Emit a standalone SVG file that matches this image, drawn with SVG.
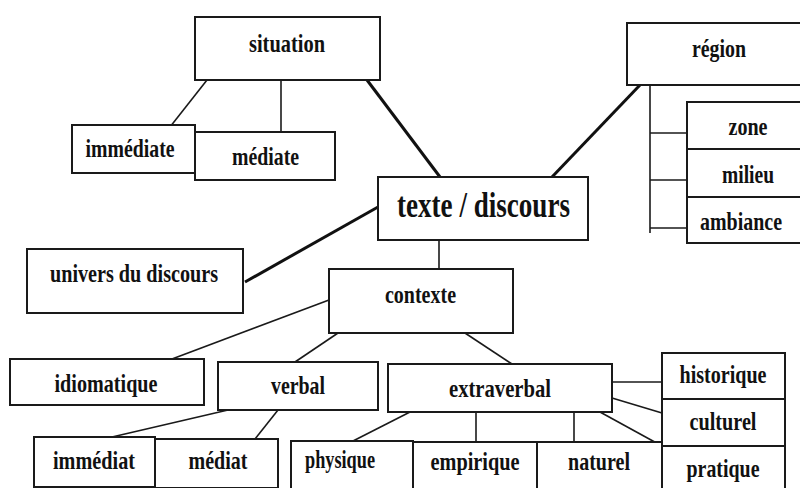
<svg xmlns="http://www.w3.org/2000/svg" width="800" height="488" viewBox="0 0 800 488">
<style>
  .box { fill: #ffffff; stroke: #1a1a1a; stroke-width: 2; }
  .t { font-family: "Liberation Serif", "Times New Roman", serif; font-weight: bold; font-size: 25px; fill: #111111; text-anchor: middle; }
  .big { font-size: 35px; }
  .thin { stroke: #1a1a1a; stroke-width: 1.6; fill: none; }
  .thick { stroke: #111111; stroke-width: 3; fill: none; }
</style>
<rect x="0" y="0" width="800" height="488" fill="#ffffff"/>
<g id="connectors">
  <line class="thin" x1="207" y1="80" x2="170" y2="127"/>
  <line class="thin" x1="281" y1="80" x2="281" y2="132"/>
  <line class="thin" x1="650" y1="85" x2="650" y2="233"/>
  <line class="thin" x1="650" y1="133" x2="687" y2="133"/>
  <line class="thin" x1="650" y1="180" x2="687" y2="180"/>
  <line class="thin" x1="650" y1="228" x2="687" y2="228"/>
  <line class="thin" x1="439" y1="240" x2="439" y2="269"/>
  <line class="thin" x1="329" y1="300" x2="172" y2="359"/>
  <line class="thin" x1="338" y1="333" x2="295" y2="362"/>
  <line class="thin" x1="465" y1="333" x2="512" y2="364"/>
  <line class="thin" x1="228" y1="410" x2="112" y2="437"/>
  <line class="thin" x1="278" y1="410" x2="255" y2="439"/>
  <line class="thin" x1="410" y1="412" x2="353" y2="441"/>
  <line class="thin" x1="476" y1="412" x2="476" y2="442"/>
  <line class="thin" x1="574" y1="412" x2="574" y2="442"/>
  <line class="thin" x1="600" y1="412" x2="662" y2="446"/>
  <line class="thin" x1="612" y1="382" x2="662" y2="382"/>
  <line class="thin" x1="612" y1="398" x2="662" y2="413"/>
  <line class="thick" x1="367" y1="80" x2="440" y2="177"/>
  <line class="thick" x1="640" y1="85" x2="552" y2="177"/>
  <line class="thick" x1="245" y1="282" x2="378" y2="207"/>
</g>
<g id="situation"><rect class="box" x="195" y="17" width="185" height="63"/><text class="t" x="287" y="52" textLength="76" lengthAdjust="spacingAndGlyphs">situation</text></g>
<g id="immediate"><rect class="box" x="72" y="125" width="123" height="48"/><text class="t" x="130" y="157" textLength="89" lengthAdjust="spacingAndGlyphs">immédiate</text></g>
<g id="mediate"><rect class="box" x="195" y="132" width="140" height="48"/><text class="t" x="265.5" y="165" textLength="67" lengthAdjust="spacingAndGlyphs">médiate</text></g>
<g id="region"><rect class="box" x="627" y="23" width="180" height="62"/><text class="t" x="719" y="57" textLength="54" lengthAdjust="spacingAndGlyphs">région</text></g>
<g id="zone"><rect class="box" x="687" y="102" width="120" height="47"/><text class="t" x="748" y="135" textLength="39" lengthAdjust="spacingAndGlyphs">zone</text></g>
<g id="milieu"><rect class="box" x="687" y="149" width="120" height="48"/><text class="t" x="748" y="183" textLength="52" lengthAdjust="spacingAndGlyphs">milieu</text></g>
<g id="ambiance"><rect class="box" x="687" y="197" width="120" height="46"/><text class="t" x="741" y="230" textLength="82" lengthAdjust="spacingAndGlyphs">ambiance</text></g>
<g id="texte-discours"><rect class="box" x="378" y="177" width="210" height="63"/><text class="t big" x="483.5" y="217" textLength="173" lengthAdjust="spacingAndGlyphs">texte / discours</text></g>
<g id="univers"><rect class="box" x="27" y="249" width="216" height="64"/><text class="t" x="134" y="282" textLength="168" lengthAdjust="spacingAndGlyphs">univers du discours</text></g>
<g id="contexte"><rect class="box" x="329" y="269" width="184" height="64"/><text class="t" x="420.5" y="303" textLength="71" lengthAdjust="spacingAndGlyphs">contexte</text></g>
<g id="idiomatique"><rect class="box" x="10" y="359" width="194" height="46"/><text class="t" x="106" y="392" textLength="103" lengthAdjust="spacingAndGlyphs">idiomatique</text></g>
<g id="verbal"><rect class="box" x="218" y="362" width="160" height="48"/><text class="t" x="298" y="394" textLength="54" lengthAdjust="spacingAndGlyphs">verbal</text></g>
<g id="extraverbal"><rect class="box" x="388" y="364" width="224" height="48"/><text class="t" x="500" y="397" textLength="102" lengthAdjust="spacingAndGlyphs">extraverbal</text></g>
<g id="historique"><rect class="box" x="662" y="353" width="123" height="46"/><text class="t" x="723" y="383" textLength="87" lengthAdjust="spacingAndGlyphs">historique</text></g>
<g id="culturel"><rect class="box" x="662" y="399" width="123" height="47"/><text class="t" x="723" y="430" textLength="67" lengthAdjust="spacingAndGlyphs">culturel</text></g>
<g id="pratique"><rect class="box" x="662" y="446" width="123" height="46"/><text class="t" x="723" y="477" textLength="73" lengthAdjust="spacingAndGlyphs">pratique</text></g>
<g id="immediat"><rect class="box" x="34" y="437" width="121" height="50"/><text class="t" x="94" y="469" textLength="82" lengthAdjust="spacingAndGlyphs">immédiat</text></g>
<g id="mediat"><rect class="box" x="155" y="439" width="123" height="49"/><text class="t" x="218" y="469" textLength="59" lengthAdjust="spacingAndGlyphs">médiat</text></g>
<g id="physique"><rect class="box" x="291" y="441" width="122" height="50"/><text class="t" x="340" y="468" textLength="70" lengthAdjust="spacingAndGlyphs">physique</text></g>
<g id="empirique"><rect class="box" x="413" y="442" width="124" height="49"/><text class="t" x="475" y="470" textLength="89" lengthAdjust="spacingAndGlyphs">empirique</text></g>
<g id="naturel"><rect class="box" x="537" y="442" width="125" height="49"/><text class="t" x="599" y="470" textLength="62" lengthAdjust="spacingAndGlyphs">naturel</text></g>
</svg>
